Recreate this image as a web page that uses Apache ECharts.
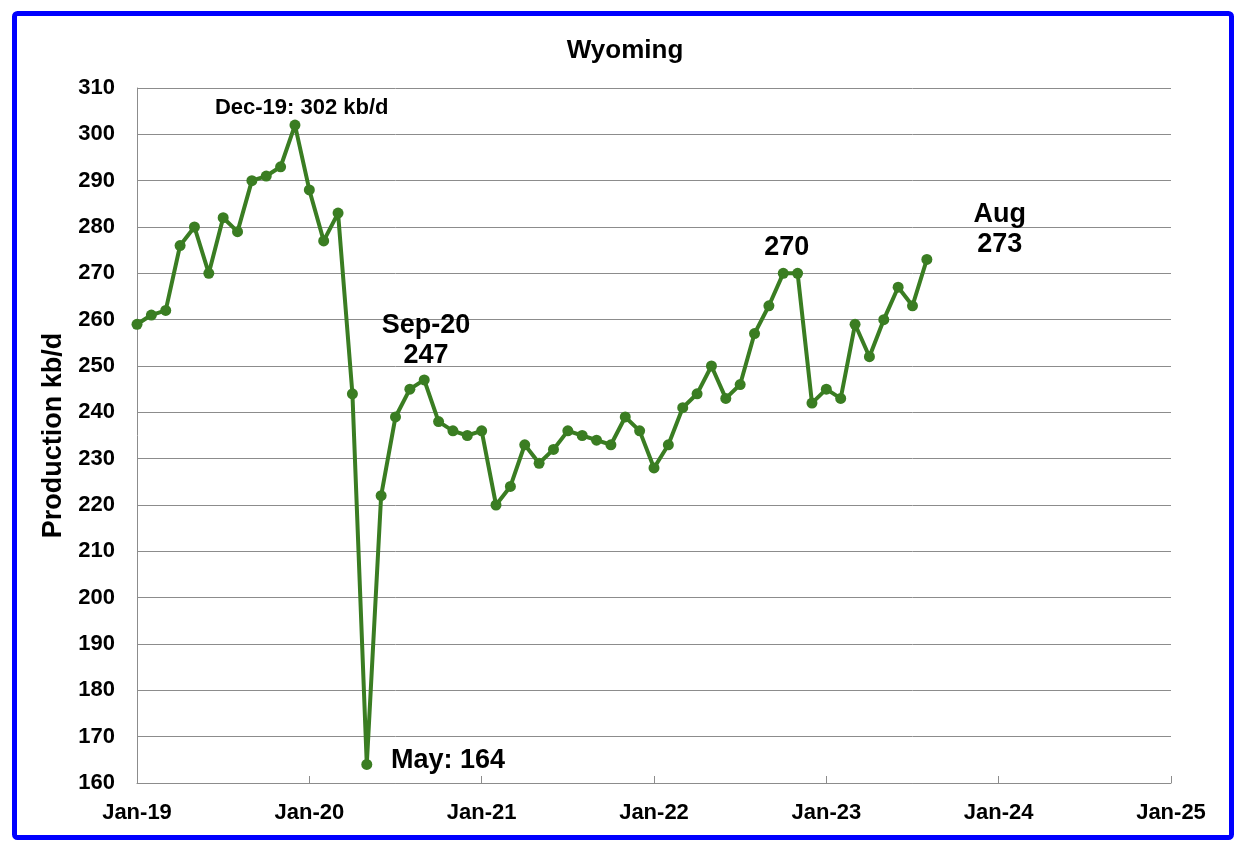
<!DOCTYPE html>
<html>
<head>
<meta charset="utf-8">
<script src="https://cdn.jsdelivr.net/npm/echarts@6/dist/echarts.min.js"></script>
<style>
  html, body { margin: 0; padding: 0; background: #ffffff; }
  #chart { width: 1250px; height: 856px; }
</style>
</head>
<body>
<div id="chart"></div>
<script>
// Monthly production, kb/d, Jan-19 .. Aug-23 (month index 0 = Jan-19)
const production = [
  259, 261, 262, 276, 280, 270, 282, 279, 290, 291, 293, 302,   // 2019
  288, 277, 283, 244, 164, 222, 239, 245, 247, 238, 236, 235,   // 2020
  236, 220, 224, 233, 229, 232, 236, 235, 234, 233, 239, 236,   // 2021
  228, 233, 241, 244, 250, 243, 246, 257, 263, 270, 270, 242,   // 2022
  245, 243, 259, 252, 260, 267, 263, 273                        // 2023
];
const xTickLabels = ['Jan-19', 'Jan-20', 'Jan-21', 'Jan-22', 'Jan-23', 'Jan-24', 'Jan-25'];
const yMin = 160, yMax = 310, yStep = 10;

// Annotation texts and their anchor in data units [month index, kb/d]
const annotationTexts = ['Dec-19: 302 kb/d', 'Sep-20\n247', 'May: 164', '270', 'Aug\n273'];
const annotationAnchors = [[11.47, 305.7], [20.12, 255.4], [21.66, 164.9], [45.24, 275.5], [60.07, 279.4]];
const annotationSizes = [22, 27, 27, 27, 27];

const seriesData = production.map((v, i) => [i, v]);
const FONT = "'Liberation Sans', Arial, Helvetica, sans-serif";

const chart = echarts.init(document.getElementById('chart'), null, { renderer: 'canvas' });
chart.setOption({
  backgroundColor: '#ffffff',
  animation: false,
  title: {
    text: 'Wyoming',
    left: 'center',
    top: 33,
    textStyle: { fontFamily: FONT, fontWeight: 'bold', fontSize: 26, color: '#000' }
  },
  graphic: [{
    type: 'rect',
    shape: { x: 14.5, y: 13.5, width: 1217, height: 824, r: 3 },
    style: { fill: 'none', stroke: '#0000ff', lineWidth: 5 },
    z: 100
  }],
  grid: { left: 137, right: 79, top: 88, bottom: 73, containLabel: false },
  xAxis: {
    type: 'value',
    min: 0,
    max: 72,
    interval: 12,
    axisLine: { show: true, lineStyle: { color: '#8c8c8c', width: 1 } },
    axisTick: { show: true, inside: true, length: 7, lineStyle: { color: '#8c8c8c' } },
    splitLine: { show: false },
    axisLabel: {
      margin: 19,
      fontFamily: FONT, fontWeight: 'bold', fontSize: 22, color: '#000',
      formatter: v => xTickLabels[Math.round(v / 12)] || ''
    }
  },
  yAxis: {
    type: 'value',
    min: yMin,
    max: yMax,
    interval: yStep,
    name: 'Production kb/d',
    nameLocation: 'middle',
    nameGap: 64,
    nameRotate: 90,
    nameTextStyle: { fontFamily: FONT, fontWeight: 'bold', fontSize: 27, color: '#000' },
    axisLine: { show: true, lineStyle: { color: '#8c8c8c', width: 1 } },
    axisTick: { show: false },
    splitLine: { show: true, lineStyle: { color: '#8c8c8c', width: 1 } },
    axisLabel: {
      margin: 22,
      fontFamily: FONT, fontWeight: 'bold', fontSize: 22, color: '#000'
    }
  },
  series: [{
    type: 'line',
    data: seriesData,
    symbol: 'circle',
    symbolSize: 11,
    showAllSymbol: true,
    lineStyle: { color: '#3a7d22', width: 4 },
    itemStyle: { color: '#3a7d22' },
    z: 5,
    markPoint: {
      symbol: 'circle',
      symbolSize: 1,
      itemStyle: { color: 'rgba(0,0,0,0)' },
      silent: true,
      data: annotationTexts.map((t, i) => ({
        coord: annotationAnchors[i],
        value: t,
        label: {
          show: true,
          position: 'inside',
          formatter: t,
          fontFamily: FONT,
          fontWeight: 'bold',
          fontSize: annotationSizes[i],
          lineHeight: annotationSizes[i] + 3,
          color: '#000',
          align: 'center'
        }
      }))
    }
  }]
});
</script>
</body>
</html>
